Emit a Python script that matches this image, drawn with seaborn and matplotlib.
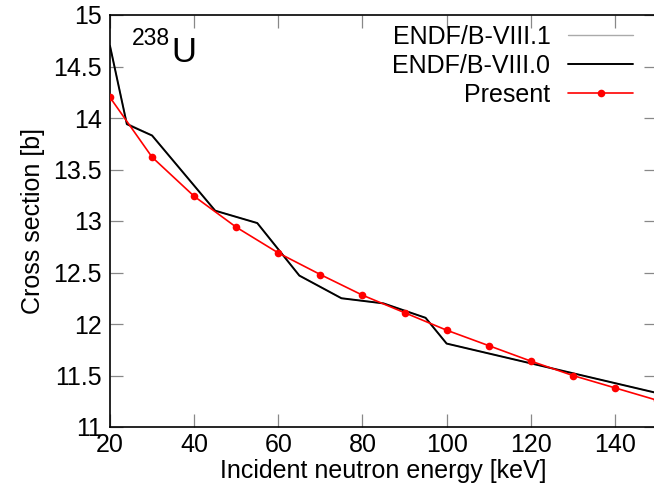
import numpy as np
import pandas as pd
import matplotlib
matplotlib.use("Agg")
import matplotlib.pyplot as plt
import seaborn as sns

# ---- data ----
present_e = [20, 30, 40, 50, 60, 70, 80, 90, 100, 110, 120, 130, 140, 150]
present_xs = [14.20, 13.62, 13.24, 12.94, 12.69, 12.48, 12.28, 12.11, 11.94, 11.79, 11.64, 11.50, 11.38, 11.26]

endf80_e = [20, 24, 30, 45, 55, 65, 75, 85, 95, 100, 150]
endf80_xs = [14.70, 13.94, 13.83, 13.10, 12.98, 12.47, 12.25, 12.20, 12.06, 11.81, 11.33]

endf81_e = [20, 24, 30, 45, 55, 65, 75, 85, 95, 100, 150]
endf81_xs = [14.70, 13.95, 13.83, 13.10, 12.98, 12.47, 12.25, 12.20, 12.06, 11.81, 11.33]

xticks = [20, 40, 60, 80, 100, 120, 140]
yticks = [11, 11.5, 12, 12.5, 13, 13.5, 14, 14.5, 15]
ytick_labels = ["11", "11.5", "12", "12.5", "13", "13.5", "14", "14.5", "15"]

sns.set_theme(style="ticks")
plt.rcParams["font.family"] = ["Liberation Sans", "DejaVu Sans"]
plt.rcParams["text.color"] = "black"
plt.rcParams["axes.labelcolor"] = "black"
plt.rcParams["xtick.labelcolor"] = "black"
plt.rcParams["ytick.labelcolor"] = "black"

W, H = 654, 491
fig = plt.figure(figsize=(W / 100, H / 100), dpi=100)
ax = fig.add_axes([110 / W, 1 - 427 / H, 547 / W, 412 / H])

df81 = pd.DataFrame({"E": endf81_e, "xs": endf81_xs})
df80 = pd.DataFrame({"E": endf80_e, "xs": endf80_xs})
dfp = pd.DataFrame({"E": present_e, "xs": present_xs})

sns.lineplot(data=df81, x="E", y="xs", ax=ax, color="#aaaaaa", lw=1.0,
             label="ENDF/B-VIII.1", sort=False, zorder=2)
sns.lineplot(data=df80, x="E", y="xs", ax=ax, color="black", lw=1.4,
             label="ENDF/B-VIII.0", sort=False, zorder=3)
sns.lineplot(data=dfp, x="E", y="xs", ax=ax, color="#ff0000", lw=1.2,
             marker="o", markersize=5.5, markeredgewidth=0,
             label="Present", sort=False, zorder=4)

ax.set_xlim(20, 150)
ax.set_ylim(11, 15)
ax.set_xticks(xticks)
ax.set_yticks(yticks)
ax.set_yticklabels(ytick_labels)

for s in ax.spines.values():
    s.set_visible(True)
    s.set_color("black")
    s.set_linewidth(1.2)

ax.tick_params(axis="both", which="both", direction="in", length=9.5, width=0.9,
               color="#888888", top=True, right=True, labelsize=18,
               labelcolor="black", pad=6)
ax.tick_params(axis="x", pad=4)

ax.set_xlabel("Incident neutron energy [keV]", fontsize=18, labelpad=2)
ax.set_ylabel("Cross section [b]", fontsize=18, labelpad=6)

# nucleus label
ax.text(0.040, 0.927, "238", transform=ax.transAxes, fontsize=16.5,
        ha="left", va="baseline")
ax.text(0.113, 0.886, "U", transform=ax.transAxes, fontsize=25,
        ha="left", va="baseline")

leg = ax.legend(loc="upper right", bbox_to_anchor=(633 / W, 1 - 25 / H),
                bbox_transform=fig.transFigure, frameon=False, fontsize=18,
                markerfirst=False, handlelength=2.6, handletextpad=0.7,
                labelspacing=0.2, borderpad=0, borderaxespad=0)
try:
    leg._legend_handle_box.get_children()[0].align = "right"
except Exception:
    pass

fig.savefig("out.png", dpi=100)
